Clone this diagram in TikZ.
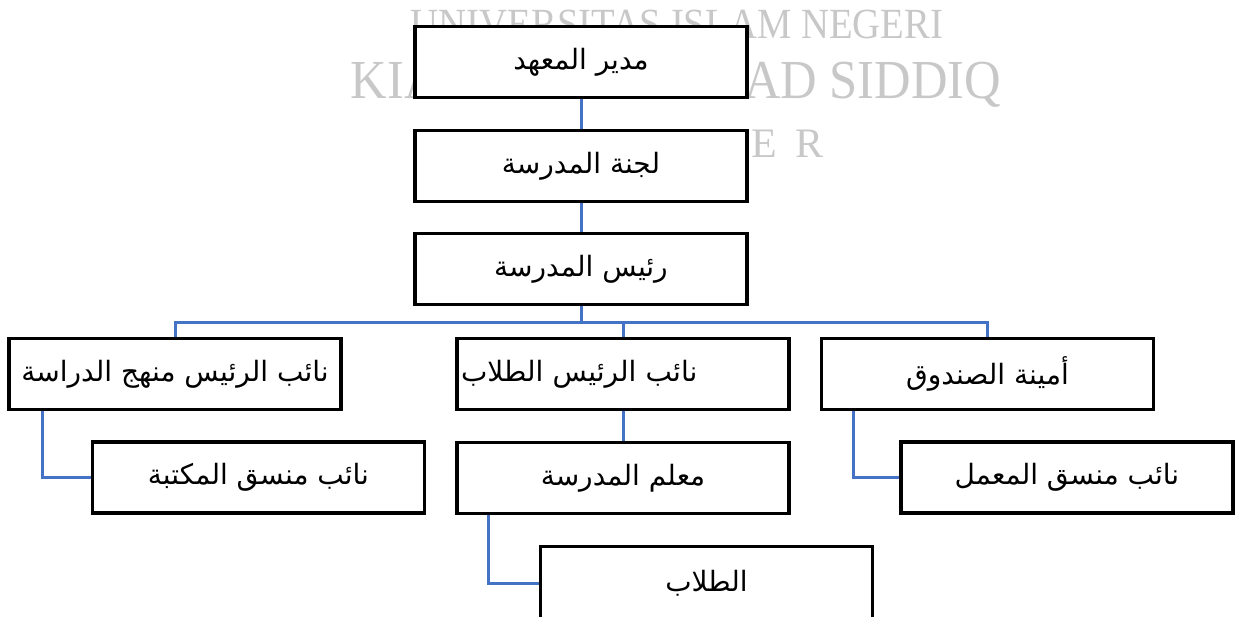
\documentclass[tikz,border=0pt]{standalone}
\usepackage{fontspec}
\setmainfont{Liberation Serif}
\newfontfamily\arabicfont[Script=Arabic]{DejaVu Sans}
\TeXXeTstate=1
\newcommand{\arab}[1]{{\arabicfont\beginR #1\endR}}
\definecolor{chartblue}{RGB}{68,114,196}
\definecolor{stampgray}{RGB}{200,200,200}

\begin{document}
\begin{tikzpicture}[x=1pt, y=-1pt,
  unit/.style={draw=black, line width=3.5pt, fill=white, minimum width=332pt, minimum height=71pt, inner sep=4pt, font=\fontsize{28}{32}\selectfont},
  link/.style={draw=chartblue, line width=3pt},
  stamp/.style={text=stampgray, inner sep=0pt, anchor=base}]
  \useasboundingbox (0,0) rectangle (1235,617);
  \node [stamp, font=\fontsize{43}{43}\selectfont] (uni) at (677,39) {\scalebox{0.9}[1]{UNIVERSITAS ISLAM NEGERI}};
  \node [stamp, font=\fontsize{55}{55}\selectfont] (kiai) at (676,99) {\scalebox{0.92}[1]{KIAI HAJI ACHMAD SIDDIQ}};
  \node [stamp, font=\fontsize{42}{42}\selectfont] (kota) at (696,158) {J\hspace{19pt}E\hspace{19pt}M\hspace{19pt}B\hspace{19pt}E\hspace{19pt}R};

  \node [unit] (mudir) at (581,62) {\arab{مدير المعهد}};
  \node [unit] (lajna) at (581,166) {\arab{لجنة المدرسة}};
  \node [unit] (rais) at (581,269) {\arab{رئيس المدرسة}};
  \node [unit] (naibman) at (175,374) {\arab{نائب الرئيس منهج الدراسة}};
  \node [unit, text width=324pt, align=left] (naibtal) at (623,374) {\arab{نائب الرئيس الطلاب}};
  \node [unit] (amina) at (987.5,374) {\arab{أمينة الصندوق}};
  \node [unit] (maktaba) at (258.5,477.5) {\arab{نائب منسق المكتبة}};
  \node [unit] (muallim) at (623,478) {\arab{معلم المدرسة}};
  \node [unit] (mamal) at (1067,477.5) {\arab{نائب منسق المعمل}};
  \node [unit, minimum height=74pt] (tullab) at (706.5,583.5) {\arab{الطلاب}};

  \draw [link] (mudir) -- (lajna);
  \draw [link] (lajna) -- (rais);
  \draw [link] (rais.south) -- ++(0,16) -| (naibman.north);
  \draw [link] (rais.south) -- ++(0,16) -| (naibtal.north);
  \draw [link] (rais.south) -- ++(0,16) -| (amina.north);
  \draw [link] ([xshift=35pt]naibman.south west) |- (maktaba.west);
  \draw [link] (naibtal) -- (muallim);
  \draw [link] ([xshift=34pt]amina.south west) |- (mamal.west);
  \draw [link] ([xshift=33pt]muallim.south west) |- (tullab.west);
\end{tikzpicture}
\end{document}
